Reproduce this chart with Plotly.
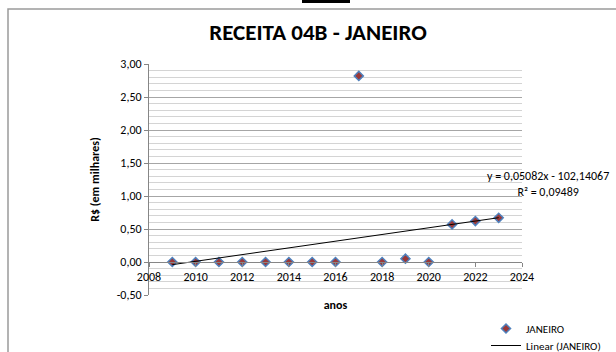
import numpy as np
import plotly.graph_objects as go

# Receita 04B - valores de janeiro (R$ em milhares)
anos = [2009, 2010, 2011, 2012, 2013, 2014, 2015, 2016,
        2017, 2018, 2019, 2020, 2021, 2022, 2023]
janeiro = [0.00, 0.00, 0.00, 0.00, 0.00, 0.00, 0.00, 0.00,
           2.82, 0.00, 0.05, 0.00, 0.57, 0.62, 0.67]

y_tick_vals = [-0.5, 0.0, 0.5, 1.0, 1.5, 2.0, 2.5, 3.0]
y_tick_text = ["-0,50", "0,00", "0,50", "1,00", "1,50", "2,00", "2,50", "3,00"]
x_tick_vals = [2008, 2010, 2012, 2014, 2016, 2018, 2020, 2022, 2024]
x_tick_text = [str(v) for v in x_tick_vals]

FONT = "Carlito, Lato, 'Liberation Sans', sans-serif"

# linear trend fitted on the series
x = np.array(anos, dtype=float)
y = np.array(janeiro, dtype=float)
slope, intercept = np.polyfit(x, y, 1)
fit = slope * x + intercept
r2 = 1 - np.sum((y - fit) ** 2) / np.sum((y - y.mean()) ** 2)
trend_x = [x.min(), x.max()]
trend_y = [slope * v + intercept for v in trend_x]

def br(v, d):
    return f"{v:.{d}f}".replace(".", ",")

eq_text = f"y = {br(slope, 5)}x - {br(abs(intercept), 5)}<br>R² = {br(r2, 5)}"

# plot area in pixels
L, R, T, B = 149, 522, 64, 295
W, H = R - L, B - T

def px(v):
    return (v - L) / W

def py(v):
    return (B - v) / H

fig = go.Figure()
fig.add_trace(go.Scatter(
    x=anos, y=janeiro, mode="markers", name="JANEIRO", legend="legend",
    marker=dict(symbol="diamond", size=7, color="#9B3838",
                line=dict(color="#4F81BD", width=1.5)),
))
fig.add_trace(go.Scatter(
    x=trend_x, y=trend_y, mode="lines", name="Linear (JANEIRO)", legend="legend2",
    line=dict(color="black", width=1),
))

y_min, y_max = -0.5, 3.0
zero_pos = (0 - y_min) / (y_max - y_min)

legend_style = dict(xanchor="left", yanchor="top", bgcolor="rgba(0,0,0,0)",
                    font=dict(size=11), itemwidth=30)

fig.update_layout(
    width=616, height=352,
    margin=dict(l=L, r=616 - R, t=T, b=352 - B, autoexpand=False),
    paper_bgcolor="white", plot_bgcolor="white",
    font=dict(family=FONT, size=12, color="black"),
    title=dict(text="<b>RECEITA 04B - JANEIRO</b>", x=318 / 616, xanchor="center",
               y=1 - 32 / 352, yanchor="middle", yref="container",
               font=dict(family=FONT, size=23, color="black")),
    showlegend=True,
    legend=dict(x=px(486), y=py(314), **legend_style),
    legend2=dict(x=px(486), y=py(331), **legend_style),
    xaxis=dict(range=[2008, 2024], tickvals=x_tick_vals, ticktext=x_tick_text,
               anchor="free", position=zero_pos,
               showline=True, linecolor="#868686", linewidth=1,
               ticks="outside", ticklen=4, tickcolor="#868686",
               showgrid=False, zeroline=False,
               title=dict(text="<b>anos</b>", standoff=17, font=dict(size=12))),
    yaxis=dict(range=[y_min, y_max], tickvals=y_tick_vals, ticktext=y_tick_text,
               showline=True, linecolor="#868686", linewidth=1,
               ticks="outside", ticklen=4, tickcolor="#868686",
               showgrid=True, gridcolor="#a6a6a6", gridwidth=1, zeroline=False,
               minor=dict(dtick=0.1, tick0=0, showgrid=True, gridcolor="#d4d4d4",
                          gridwidth=1, ticks=""),
               title=dict(text="<b>R$ (em milhares)</b>", standoff=14,
                          font=dict(size=12))),
    annotations=[dict(
        text=eq_text, x=px(548), y=py(184), xref="paper", yref="paper",
        showarrow=False, xanchor="center", yanchor="middle", align="center",
        font=dict(size=12, color="black"),
    )],
    shapes=[
        # chart frame
        dict(type="rect", xref="paper", yref="paper",
             x0=px(8), x1=px(622), y0=py(360), y1=py(9),
             line=dict(color="#9a9a9a", width=1.5), fillcolor="rgba(0,0,0,0)",
             layer="below"),
        # dark tab above the frame
        dict(type="rect", xref="paper", yref="paper",
             x0=px(302), x1=px(350), y0=py(3), y1=py(-2),
             line=dict(width=0), fillcolor="black"),
    ],
)

fig.write_html("out.html")
